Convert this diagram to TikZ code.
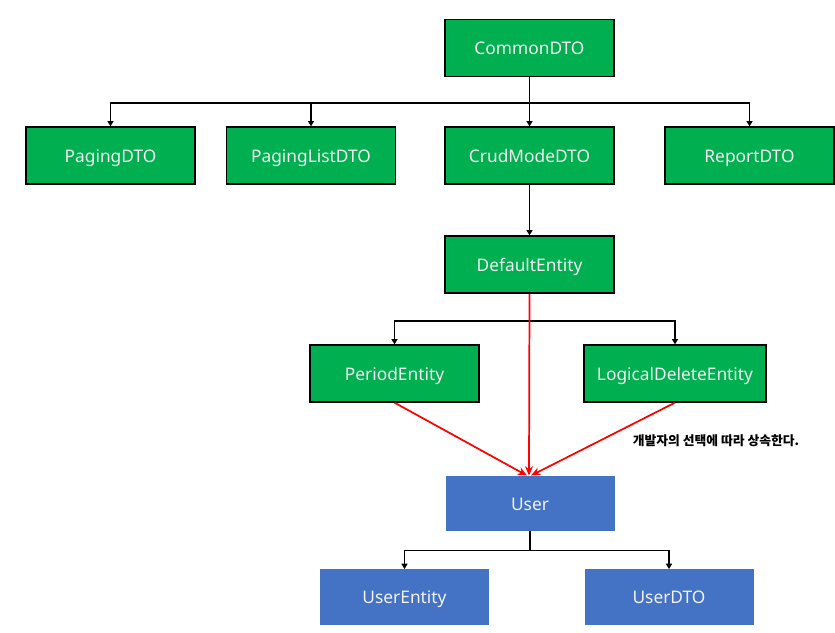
\documentclass[tikz,border=0pt]{standalone}
\usepackage{fontspec}
\setmainfont{Noto Sans}
\newfontfamily\krfont{Noto Sans CJK KR}
\usepackage{xcolor}
\definecolor{boxgreen}{HTML}{00B050}
\definecolor{boxblue}{HTML}{4472C4}
\definecolor{boxtext}{HTML}{F2F2F2}
\usetikzlibrary{arrows.meta, positioning, calc}

\begin{document}
\begin{tikzpicture}[
  x=0.75pt, y=-0.75pt,
  gbox/.style={rectangle, draw=black, line width=1.2pt, fill=boxgreen,
    text=boxtext, minimum width=126.75pt, minimum height=42.5pt,
    text height=11.5pt, text depth=1.5pt,
    align=center, font=\fontsize{13}{15}\selectfont},
  bbox/.style={rectangle, fill=boxblue, text=boxtext,
    minimum width=126.75pt, minimum height=41.5pt,
    text height=11.5pt, text depth=1.5pt,
    align=center, font=\fontsize{13}{15}\selectfont},
  conn/.style={draw=black, line width=1.3pt,
    -{Triangle[length=4pt,width=4.5pt]}},
  inherit/.style={draw=red, line width=1.3pt,
    -{Stealth[length=7pt,width=6pt]}},
]
  \clip (0,0) rectangle (835,632);
  \useasboundingbox (0,0) rectangle (835,632);

  % Top
  \node[gbox] (common) at (529.5,48) {CommonDTO};

  % DTO row
  \node[gbox] (paging) at (110.5,155.5) {PagingDTO};
  \node[gbox] (paginglist) at (311,155.5) {PagingListDTO};
  \node[gbox] (crudmode) at (529.5,155.5) {CrudModeDTO};
  \node[gbox] (report) at (749.5,155.5) {ReportDTO};

  % Entities
  \node[gbox] (default) at (529.5,264.5) {DefaultEntity};
  \node[gbox] (period) at (394.5,373.5) {PeriodEntity};
  \node[gbox, minimum width=136.5pt] (logicaldel)
    at (675,373.5) {LogicalDeleteEntity};

  % User
  \node[bbox] (user) at (530,503.5) {User};
  \node[bbox] (userentity) at (404.5,597) {UserEntity};
  \node[bbox] (userdto) at (669,597) {UserDTO};

  \node[font=\krfont\bfseries\fontsize{9.6}{11}\selectfont] (note)
    at (716,441) {개발자의 선택에 따라 상속한다.};

  % Connectors
  \draw[conn] (common.south) -- (crudmode.north);
  \draw[conn] (common.south) -- ++(0,26) -| (paging.north);
  \draw[conn] (common.south) -- ++(0,26) -| (paginglist.north);
  \draw[conn] (common.south) -- ++(0,26) -| (report.north);
  \draw[conn] (crudmode.south) -- (default.north);
  \draw[conn] (default.south) -- ++(0,27) -| (period.north);
  \draw[conn] (default.south) -- ++(0,27) -| (logicaldel.north);
  \draw[conn] (user.south) -- ++(0,19) -| (userentity.north);
  \draw[conn] (user.south) -- ++(0,19) -| (userdto.north);

  % Inheritance
  \draw[inherit] (default.south) -- ($(user.north)+(-1,0)$);
  \draw[inherit] (period.south) -- ($(user.north)+(-3,0)$);
  \draw[inherit] (logicaldel.south) -- ($(user.north)+(1,0)$);
\end{tikzpicture}
\end{document}
